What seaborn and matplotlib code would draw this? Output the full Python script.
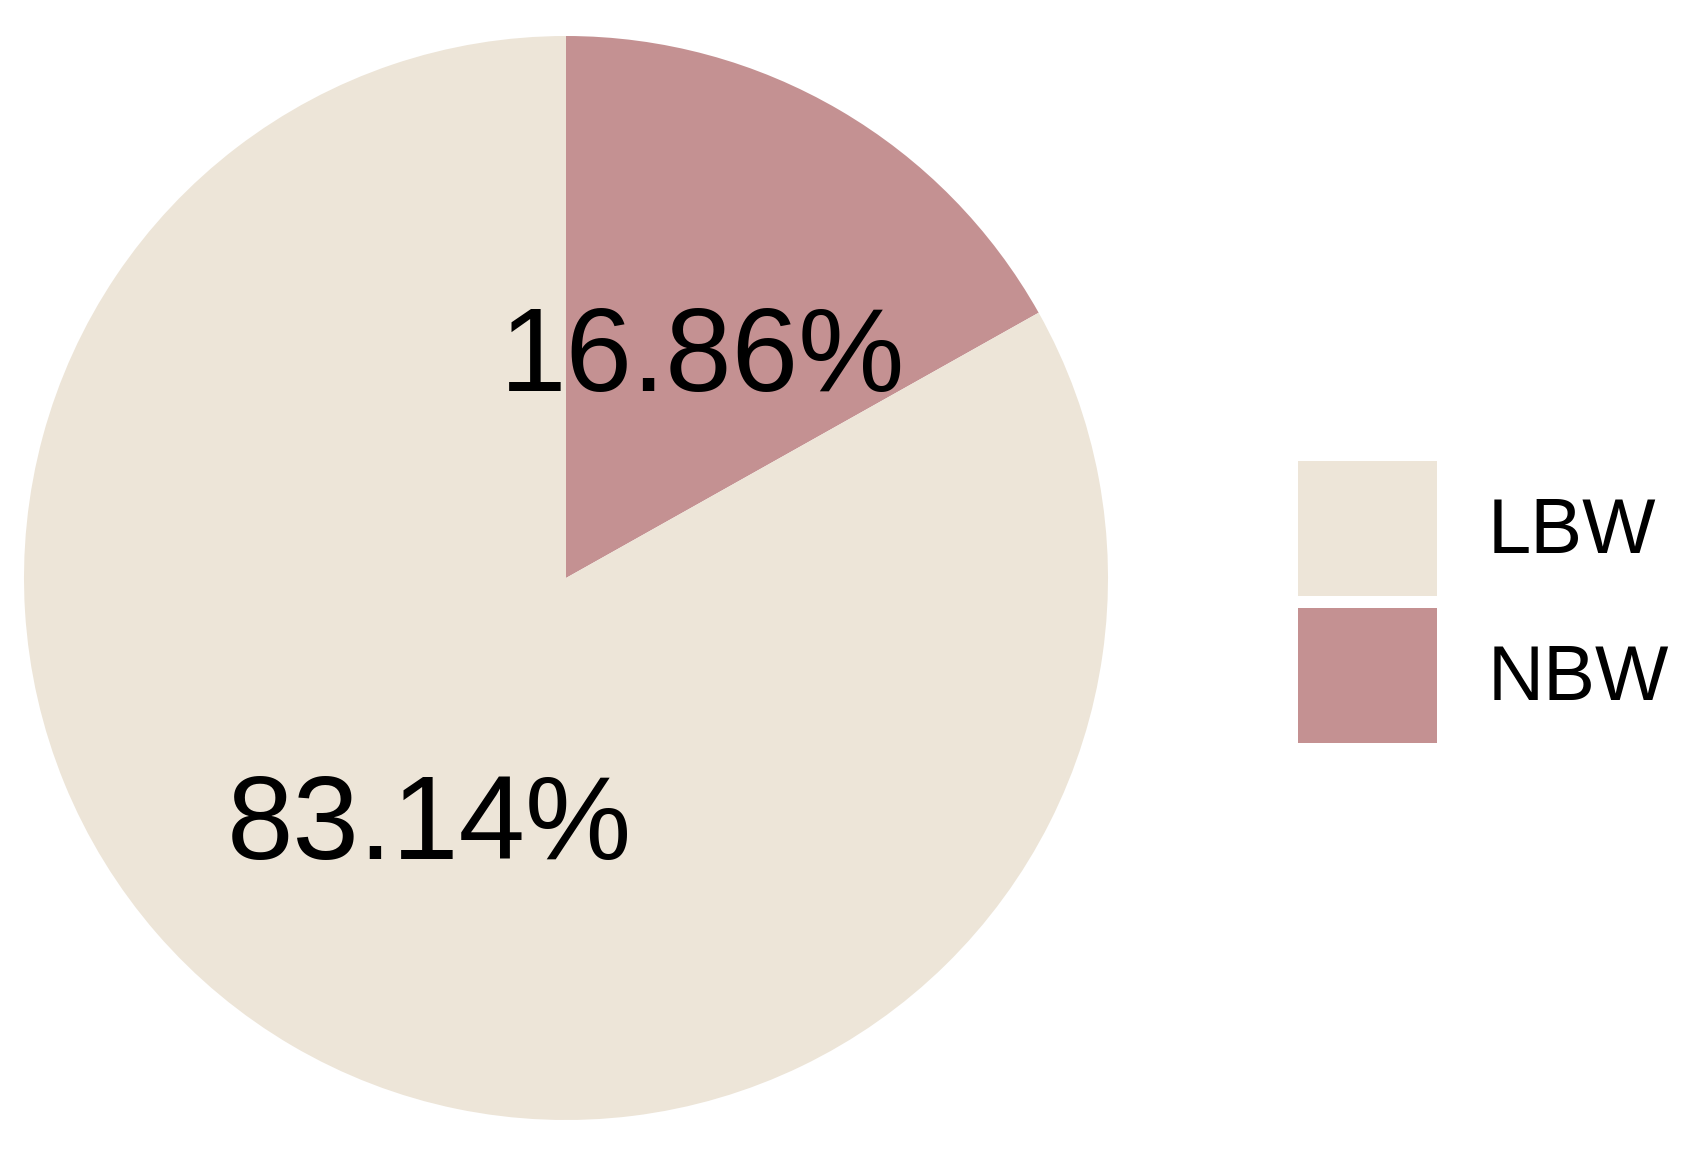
import matplotlib
matplotlib.use("Agg")
import matplotlib.pyplot as plt
import seaborn as sns

# data
categories = ["LBW", "NBW"]
shares = [83.14, 16.86]
colors = ["#EDE5D8", "#C49192"]

sns.set_theme(style="white")
plt.rcParams["font.family"] = ["Liberation Sans", "DejaVu Sans"]
plt.rcParams["text.color"] = "black"

fig = plt.figure(figsize=(16.93, 11.51), dpi=100)
# square axes so the pie is centred at the same spot as the reference
ax = fig.add_axes([24 / 1693, 31 / 1151, 1084 / 1693, 1084 / 1151])

# NBW runs clockwise from 12 o'clock, so draw it first
order = [1, 0]
wedges, texts, autotexts = ax.pie(
    [shares[i] for i in order],
    colors=[colors[i] for i in order],
    startangle=90,
    counterclock=False,
    autopct=lambda p: f"{p:.2f}%",
    pctdistance=0.5,
    radius=1.0,
    wedgeprops={"linewidth": 0},
    textprops={"fontsize": 86, "color": "black"},
)
# matplotlib centres on the full text box; nudge down onto the digits
for t in autotexts:
    x, y = t.get_position()
    t.set_position((x, y - 0.031))

ax.set_xlim(-1, 1)
ax.set_ylim(-1, 1)
ax.set_aspect("equal")
ax.axis("off")

handles = [wedges[order.index(i)] for i in range(len(categories))]
leg = fig.legend(
    handles,
    categories,
    loc="center left",
    bbox_to_anchor=(1298 / 1693, 549 / 1151),
    bbox_transform=fig.transFigure,
    frameon=False,
    fontsize=56,
    borderpad=0,
    borderaxespad=0,
    handlelength=1.787,
    handleheight=2.293,
    handletextpad=0.656,
    labelspacing=0.154,
)
for t in leg.get_texts():
    t.set_color("black")

fig.savefig("out.png", dpi=100)
plt.close(fig)
